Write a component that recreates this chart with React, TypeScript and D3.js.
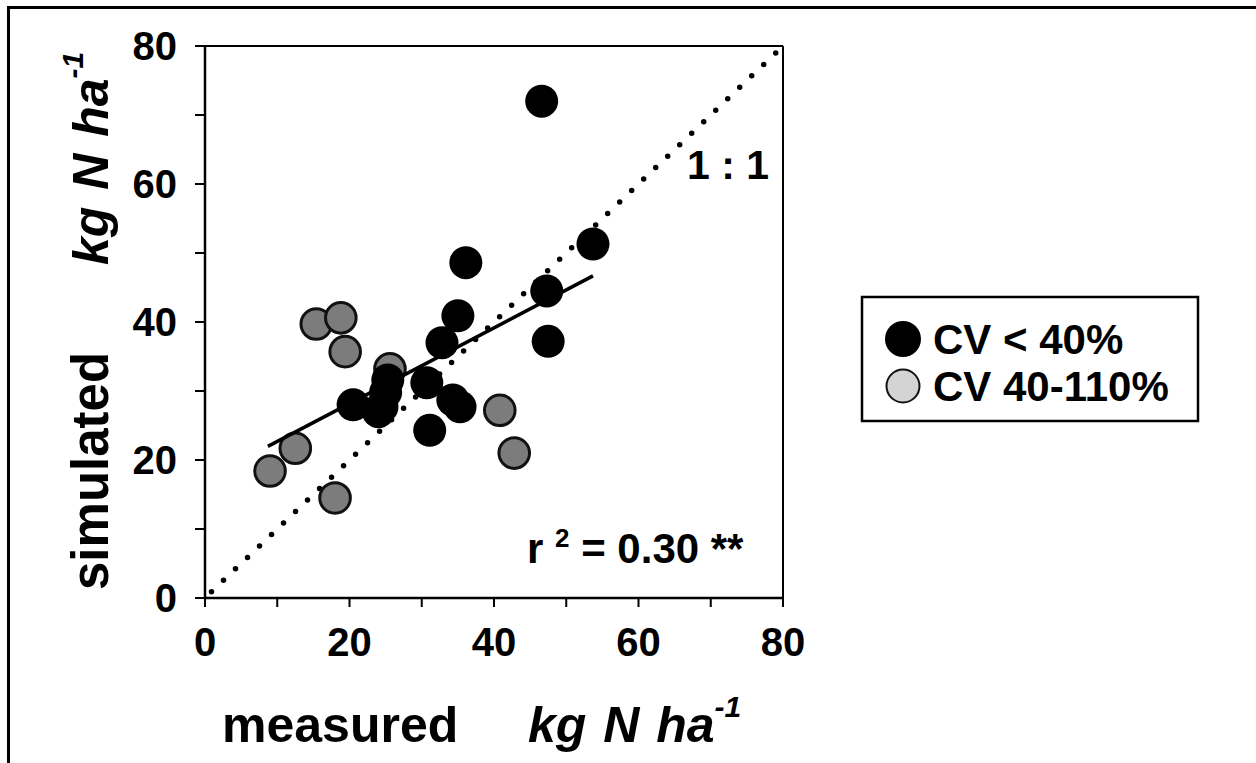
import React from "react";
import * as d3 from "d3";

const blackX = [46.6, 53.7, 47.3, 47.5, 36.1, 35.0, 32.8, 34.3, 35.3, 30.7, 31.1, 20.5, 24.5, 25.3, 24.0, 25.0];
const blackY = [72.0, 51.3, 44.5, 37.2, 48.6, 40.9, 37.0, 28.7, 27.7, 31.2, 24.3, 28.0, 27.7, 31.6, 27.0, 29.8];
const grayX = [9.0, 12.5, 18.0, 15.4, 18.8, 19.4, 25.6, 40.8, 42.8];
const grayY = [18.4, 21.7, 14.5, 39.7, 40.6, 35.7, 33.2, 27.2, 21.0];
const fitX = [8.7, 53.7];
const fitIntercept = 17.2;
const fitSlope = 0.549;
const majorTicks = [0, 20, 40, 60, 80];
const minorTicks = [0, 10, 20, 30, 40, 50, 60, 70, 80];
const legendLabels = ["CV < 40%", "CV 40-110%"];

const FONT = "'Liberation Sans', Arial, Helvetica, sans-serif";

export default function App() {
  const x = d3.scaleLinear().domain([0, 80]).range([205, 783]);
  const y = d3.scaleLinear().domain([0, 80]).range([598, 46]);
  const line = d3.line<[number, number]>().x((d) => x(d[0])).y((d) => y(d[1]));
  const fitPts: [number, number][] = fitX.map((v) => [v, fitIntercept + fitSlope * v]);
  const onePts: [number, number][] = [[0.9, 0.9], [80, 80]];
  const r = 16.5;

  return (
    <svg
      width={1256}
      height={763}
      style={{ position: "absolute", left: 0, top: 0, background: "#fff" }}
      fontFamily={FONT}
    >
      <rect x={0} y={0} width={1256} height={763} fill="#fff" />
      {/* outer border */}
      <line x1={8} y1={7.5} x2={1256} y2={7.5} stroke="#000" strokeWidth={3} />
      <line x1={8.5} y1={6} x2={8.5} y2={763} stroke="#000" strokeWidth={3} />

      {/* 1:1 dotted line */}
      <path
        d={line(onePts) || ""}
        fill="none"
        stroke="#000"
        strokeWidth={5.5}
        strokeLinecap="round"
        strokeDasharray="0 16.6"
      />

      {/* gray points */}
      {grayX.map((gx, i) => (
        <circle key={"g" + i} cx={x(gx)} cy={y(grayY[i])} r={r - 1.2} fill="#7c7c7c" stroke="#111" strokeWidth={3} />
      ))}
      {/* black points */}
      {blackX.map((bx, i) => (
        <circle key={"b" + i} cx={x(bx)} cy={y(blackY[i])} r={r} fill="#000" />
      ))}

      {/* regression line */}
      <path d={line(fitPts) || ""} fill="none" stroke="#000" strokeWidth={3.5} />

      {/* frame */}
      <line x1={x(0)} y1={y(80)} x2={x(80)} y2={y(80)} stroke="#000" strokeWidth={2} />
      <line x1={x(80)} y1={y(80)} x2={x(80)} y2={y(0)} stroke="#000" strokeWidth={2} />
      <line x1={x(0)} y1={y(80)} x2={x(0)} y2={y(0)} stroke="#000" strokeWidth={2.5} />
      <line x1={x(0)} y1={y(0)} x2={x(80)} y2={y(0)} stroke="#000" strokeWidth={2.5} />

      {/* ticks */}
      {minorTicks.map((t) => (
        <line key={"xt" + t} x1={x(t)} x2={x(t)} y1={y(0)} y2={y(0) + 9} stroke="#000" strokeWidth={2} />
      ))}
      {minorTicks.map((t) => (
        <line key={"yt" + t} x1={x(0) - 10} x2={x(0)} y1={y(t)} y2={y(t)} stroke="#000" strokeWidth={2} />
      ))}

      {/* tick labels */}
      {majorTicks.map((t) => (
        <text key={"xl" + t} x={x(t)} y={656} textAnchor="middle" fontSize={40} fontWeight="bold">
          {t}
        </text>
      ))}
      {majorTicks.map((t) => (
        <text key={"yl" + t} x={177} y={y(t) + 14} textAnchor="end" fontSize={40} fontWeight="bold">
          {t}
        </text>
      ))}

      {/* x axis title */}
      <text x={222} y={742} fontSize={50} fontWeight="bold">measured</text>
      <text x={528} y={742} fontSize={50} fontWeight="bold" fontStyle="italic" wordSpacing={3}>
        kg N ha
        <tspan fontSize={30} dy={-25}>-1</tspan>
      </text>

      {/* y axis title */}
      <g transform="translate(108,590) rotate(-90)">
        <text x={0} y={0} fontSize={51} fontWeight="bold">simulated</text>
        <text x={325} y={0} fontSize={50} fontWeight="bold" fontStyle="italic" wordSpacing={3}>
          kg N ha
          <tspan fontSize={30} dy={-25}>-1</tspan>
        </text>
      </g>

      {/* annotations */}
      <text x={687} y={179} fontSize={41} fontWeight="bold" xmlSpace="preserve">1 : 1</text>
      <text x={527} y={563} fontSize={42} fontWeight="bold" xmlSpace="preserve">
        r <tspan fontSize={26} dy={-16}>2</tspan>
        <tspan dy={16}> = 0.30 **</tspan>
      </text>

      {/* legend */}
      <rect x={862} y={297} width={336} height={124} fill="#fff" stroke="#000" strokeWidth={2.5} />
      <circle cx={903} cy={339} r={18} fill="#000" />
      <circle cx={903} cy={386} r={16.5} fill="#d4d4d4" stroke="#111" strokeWidth={2} />
      {legendLabels.map((l, i) => (
        <text key={l} x={933} y={354 + i * 47} fontSize={42} fontWeight="bold">
          {l}
        </text>
      ))}
    </svg>
  );
}
